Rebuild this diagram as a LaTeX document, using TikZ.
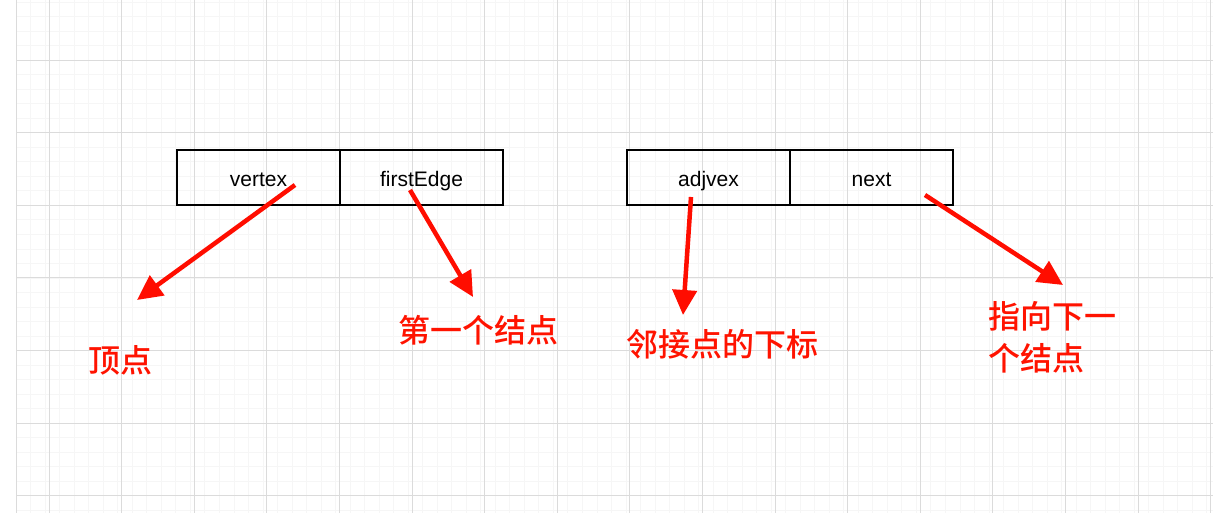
\documentclass[tikz,border=0pt]{standalone}
\usepackage{fontspec}
\setmainfont{Liberation Sans}
\newfontfamily\cjk{Noto Sans CJK SC Medium}
\usetikzlibrary{arrows.meta}
\begin{document}
\begin{tikzpicture}[x=1pt,y=-1pt,
  cell/.style={draw,line width=1.3pt,minimum width=163pt,minimum height=55pt,inner sep=0pt,font=\fontsize{21}{24}\selectfont,text depth=2pt,text height=20pt},
  lbl/.style={text=red!85!orange,font=\cjk\fontsize{32}{40}\selectfont,inner sep=0pt},
  arr/.style={draw=red!90!orange,line width=4.5pt,-{Triangle[length=25pt,width=24pt]}}]
\useasboundingbox (0,0) rectangle (1213,513);
\fill[white] (0,0) rectangle (1213,513);
\foreach \i in {0,...,83} \draw[gray!7,line width=0.6pt] ({16+\i*14.52},0) -- ({16+\i*14.52},513);
\foreach \j in {0,...,35} \draw[gray!7,line width=0.6pt] (16,{2+\j*14.52}) -- (1213,{2+\j*14.52});
\foreach \i in {0,...,16} \draw[gray!28,line width=0.8pt] ({49+\i*72.6},0) -- ({49+\i*72.6},513);
\foreach \j in {0,...,6} \draw[gray!28,line width=0.8pt] (16,{60+\j*72.6}) -- (1213,{60+\j*72.6});
\draw[gray!28,line width=0.8pt] (16,0) -- (16,513);
\node[cell] (v) at (258.5,177.5) {vertex};
\node[cell] (f) at (421.5,177.5) {firstEdge};
\node[cell] (a) at (708.5,177.5) {adjvex};
\node[cell] (n) at (871.5,177.5) {next};
\coordinate (v0) at (295,185); \coordinate (v1) at (137,300);
\coordinate (f0) at (410,190); \coordinate (f1) at (473,297);
\coordinate (a0) at (691,197); \coordinate (a1) at (683,315);
\coordinate (n0) at (925,195); \coordinate (n1) at (1063,285);
\draw[arr] (v0) -- (v1);
\draw[arr] (f0) -- (f1);
\draw[arr] (a0) -- (a1);
\draw[arr] (n0) -- (n1);
\node[lbl] (t1) at (120,360) {顶点};
\node[lbl] (t2) at (478,330) {第一个结点};
\node[lbl] (t3) at (722,344) {邻接点的下标};
\node[lbl,anchor=north west,align=left,font=\cjk\fontsize{32}{42}\selectfont] (t4) at (988,301) {指向下一\\个结点};
\end{tikzpicture}
\end{document}
